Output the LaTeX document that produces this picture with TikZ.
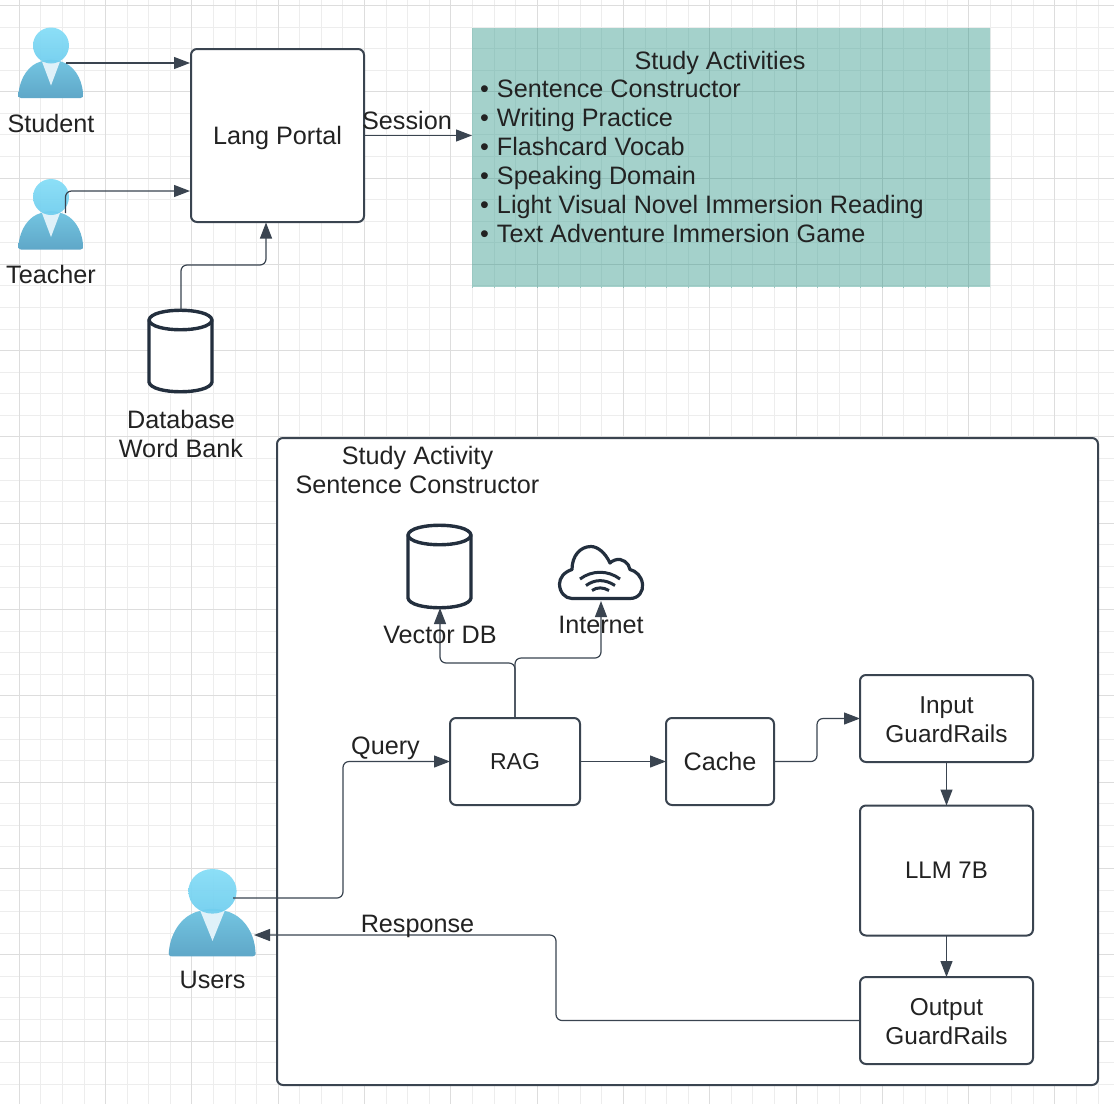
\documentclass[tikz,border=0pt]{standalone}
\usepackage{fontspec}
\setmainfont{Liberation Sans}
\usetikzlibrary{arrows.meta,calc}
\definecolor{inkc}{HTML}{3A4450}
\definecolor{txtc}{HTML}{222222}
\definecolor{gridmin}{HTML}{EDEDED}
\definecolor{gridmaj}{HTML}{DDDDDD}
\definecolor{panelc}{HTML}{A4D1CB}
\definecolor{panelmin}{HTML}{9AC8C2}
\definecolor{panelmaj}{HTML}{8FBCB6}
\definecolor{cylc}{HTML}{232F3E}
\definecolor{headtop}{HTML}{84DDF7}
\definecolor{headbot}{HTML}{6FCDEE}
\definecolor{bodytop}{HTML}{74C6E2}
\definecolor{bodybot}{HTML}{5FA7C8}
\definecolor{collar}{HTML}{DFF1F9}
\tikzset{
  x=1pt,y=-1pt,
  every node/.style={inner sep=0pt,outer sep=0pt,text=txtc,font=\fontsize{25.2}{29}\selectfont},
  procbox/.style={draw=inkc,line width=2pt,rounded corners=6pt,fill=white,align=center},
  link/.style={draw=inkc,line width=1.2pt,rounded corners=6pt,-{Triangle[length=16pt,width=12pt]}},
  lbl/.style={align=center},
  cyl/.style={draw=cylc,line width=3.4pt,fill=white},
}
\newcommand{\personicon}[4]{%
  \begin{scope}[shift={(#1,#2)},xscale=#3,yscale=#4]
    \shade[top color=bodytop,bottom color=bodybot]
      (-30,52.5) .. controls (-32.5,52.5) and (-33,51) .. (-32.5,48)
      .. controls (-31,32) and (-22,19) .. (-10,16)
      .. controls (-4,13.5) and (4,13.5) .. (10,16)
      .. controls (22,19) and (31,32) .. (32,48)
      .. controls (32.5,51) and (32,52.5) .. (29.5,52.5) -- cycle;
    \fill[collar] (-9,16) -- (9,16) -- (0,40) -- cycle;
    \shade[top color=headtop,bottom color=headbot,opacity=.93] (0,0) circle[radius=18];
  \end{scope}}
\newcommand{\cylicon}[4]{% x1 x2 ytop ybot
  \path[cyl] (#1,#3+10) -- (#1,#4-10)
    .. controls (#1+2,#4+3) and (#2-2,#4+3) .. (#2,#4-10)
    -- (#2,#3+10)
    .. controls (#2-2,#3-3) and (#1+2,#3-3) .. (#1,#3+10) -- cycle;
  \path[draw=cylc,line width=3.4pt] (#1,#3+10)
    .. controls (#1+2,#3+23) and (#2-2,#3+23) .. (#2,#3+10);}
\newcommand{\gridlines}[2]{%
  \foreach \i in {0,...,52} {
    \draw[#1,line width=.9pt] ({-2.275+21.575*\i},0) -- ({-2.275+21.575*\i},1104);
    \draw[#1,line width=.9pt] (0,{5.4+21.575*\i}) -- (1114,{5.4+21.575*\i});
  }
  \foreach \i in {0,...,13} {
    \draw[#2,line width=.9pt] ({19.3+86.3*\i},0) -- ({19.3+86.3*\i},1104);
    \draw[#2,line width=.9pt] (0,{5.4+86.3*\i}) -- (1114,{5.4+86.3*\i});
  }}
\begin{document}
\begin{tikzpicture}
\useasboundingbox (0,0) rectangle (1114,1104);
\fill[white] (0,0) rectangle (1114,1104);
% grid
\gridlines{gridmin}{gridmaj}
% panel
\fill[panelc] (472,28) rectangle (990,287);
\begin{scope}
  \clip (472,28) rectangle (990,287);
  \gridlines{panelmin}{panelmaj}
\end{scope}
% outer frame
\node[procbox,anchor=north west,minimum width=821pt,minimum height=647pt] (frame) at (277,438) {};
% icons
\personicon{51}{45.5}{1}{1}
\personicon{51}{197}{1}{1}
\personicon{212.5}{891.3}{1.34}{1.24}
\node[minimum width=65pt,minimum height=70pt] (student) at (51,63) {};
\node[minimum width=65pt,minimum height=70pt] (teacher) at (51,214) {};
\node[minimum width=87pt,minimum height=87pt] (users) at (212.5,912) {};
\cylicon{149}{212}{310}{392}
\cylicon{408}{471}{525}{608}
\node[minimum width=63pt,minimum height=82pt] (dbicon) at (180.5,351) {};
\node[minimum width=63pt,minimum height=83pt] (vecicon) at (439.5,566.5) {};
% cloud
\draw[cylc,line width=3.2pt,line join=round,fill=white]
  (572,598.5) -- (630,598.5)
  .. controls (639,598.5) and (643.5,591) .. (642.5,584)
  .. controls (641.5,576) and (636,571) .. (630,569.5)
  .. controls (629,563) and (622,557.5) .. (615,560)
  .. controls (612,561) and (611,562) .. (610,563)
  .. controls (605,552) and (597,546.5) .. (591,546.5)
  .. controls (580,546.5) and (572,556) .. (572,569.5)
  .. controls (564,572) and (559.5,578) .. (559.5,584)
  .. controls (559.5,592) and (565,598.5) .. (572,598.5) -- cycle;
\draw[cylc,line width=3pt] (580,579) .. controls (592,570) and (608,570) .. (620,579);
\draw[cylc,line width=3pt] (586,585.5) .. controls (595,579) and (605,579) .. (615,585.5);
\draw[cylc,line width=3pt] (592,590.5) .. controls (597,587) and (603,587) .. (609,590.5);
\node[minimum width=86pt,minimum height=54pt] (cloud) at (601,573) {};
% boxes
\node[procbox,minimum width=173pt,minimum height=173pt,text depth=0pt] (portal) at (277.5,135.5) {Lang Portal};
\node[procbox,minimum width=130pt,minimum height=87pt,font=\fontsize{23}{29}\selectfont] (rag) at (515,761.5) {RAG};
\node[procbox,minimum width=108pt,minimum height=87pt] (cache) at (720,761.5) {Cache};
\node[procbox,minimum width=173pt,minimum height=87pt,font=\fontsize{24.4}{29}\selectfont] (input) at (946.5,718.5) {\rule{0pt}{19pt}Input\\GuardRails};
\node[procbox,minimum width=173pt,minimum height=130pt,font=\fontsize{24}{29}\selectfont] (llm) at (946.5,870.5) {LLM 7B};
\node[procbox,minimum width=173pt,minimum height=87pt,font=\fontsize{24.4}{29}\selectfont] (output) at (946.5,1020.5) {\rule{0pt}{19pt}Output\\GuardRails};
\coordinate (panelw) at (472,135.5);
\coordinate (stuout) at (66,63);
\coordinate (stuin) at (190,63);
\coordinate (teaout) at (65.5,213);
\coordinate (teain) at (190,191);
\coordinate (useout) at (233,898);
\coordinate (usein) at (254,935);
\coordinate (dbout) at (181,310);
\coordinate (portalin) at (266,222.5);
\coordinate (vecin) at (440,608);
\coordinate (cloudin) at (601,601);
% connectors
\draw[link] (stuout) -- (stuin);
\draw[link] (teaout) |- (teain);
\draw[link] (dbout) |- (266,265) -- (portalin);
\draw[link] (portal.east) -- (panelw);
\draw[link] (useout) -| (343,761.5) -- (rag.west);
\draw[link] (rag.east) -- (cache.west);
\draw[link] (cache.east) -| (817,718.5) -- (input.west);
\draw[link] (input.south) -- (llm.north);
\draw[link] (llm.south) -- (output.north);
\draw[link] (output.west) -| (556,935) -- (usein);
\draw[link] (rag.north) |- (440,663) -- (vecin);
\draw[link] (rag.north) |- (601,658) -- (cloudin);
% labels
\node[lbl,text depth=0pt] (l1) at (51,123) {Student};
\node[lbl,text depth=0pt] (l2) at (51,274) {Teacher};
\node[lbl] (l3) at (181,433.5) {Database\\Word Bank};
\node[lbl] (l4) at (407,120) {Session};
\node[lbl] (l5) at (417.5,470) {Study Activity\\Sentence Constructor};
\node[lbl,text depth=0pt] (l6) at (440,635) {Vector DB};
\node[lbl,text depth=0pt] (l7) at (601,625) {Internet};
\node[lbl,text depth=0pt] (l8) at (385.5,746) {Query};
\node[lbl,text depth=0pt] (l9) at (417.5,924) {Response};
\node[lbl,text depth=0pt] (l10) at (212.5,980) {Users};
\node[lbl,text depth=0pt] (title) at (720,60) {Study Activities};
\node[align=left,anchor=north west] (list) at (480,80) {%
\hbox to 17pt{•\hss}Sentence Constructor\\
\hbox to 17pt{•\hss}Writing Practice\\
\hbox to 17pt{•\hss}Flashcard Vocab\\
\hbox to 17pt{•\hss}Speaking Domain\\
\hbox to 17pt{•\hss}Light Visual Novel Immersion Reading\\
\hbox to 17pt{•\hss}Text Adventure Immersion Game};
\end{tikzpicture}
\end{document}
